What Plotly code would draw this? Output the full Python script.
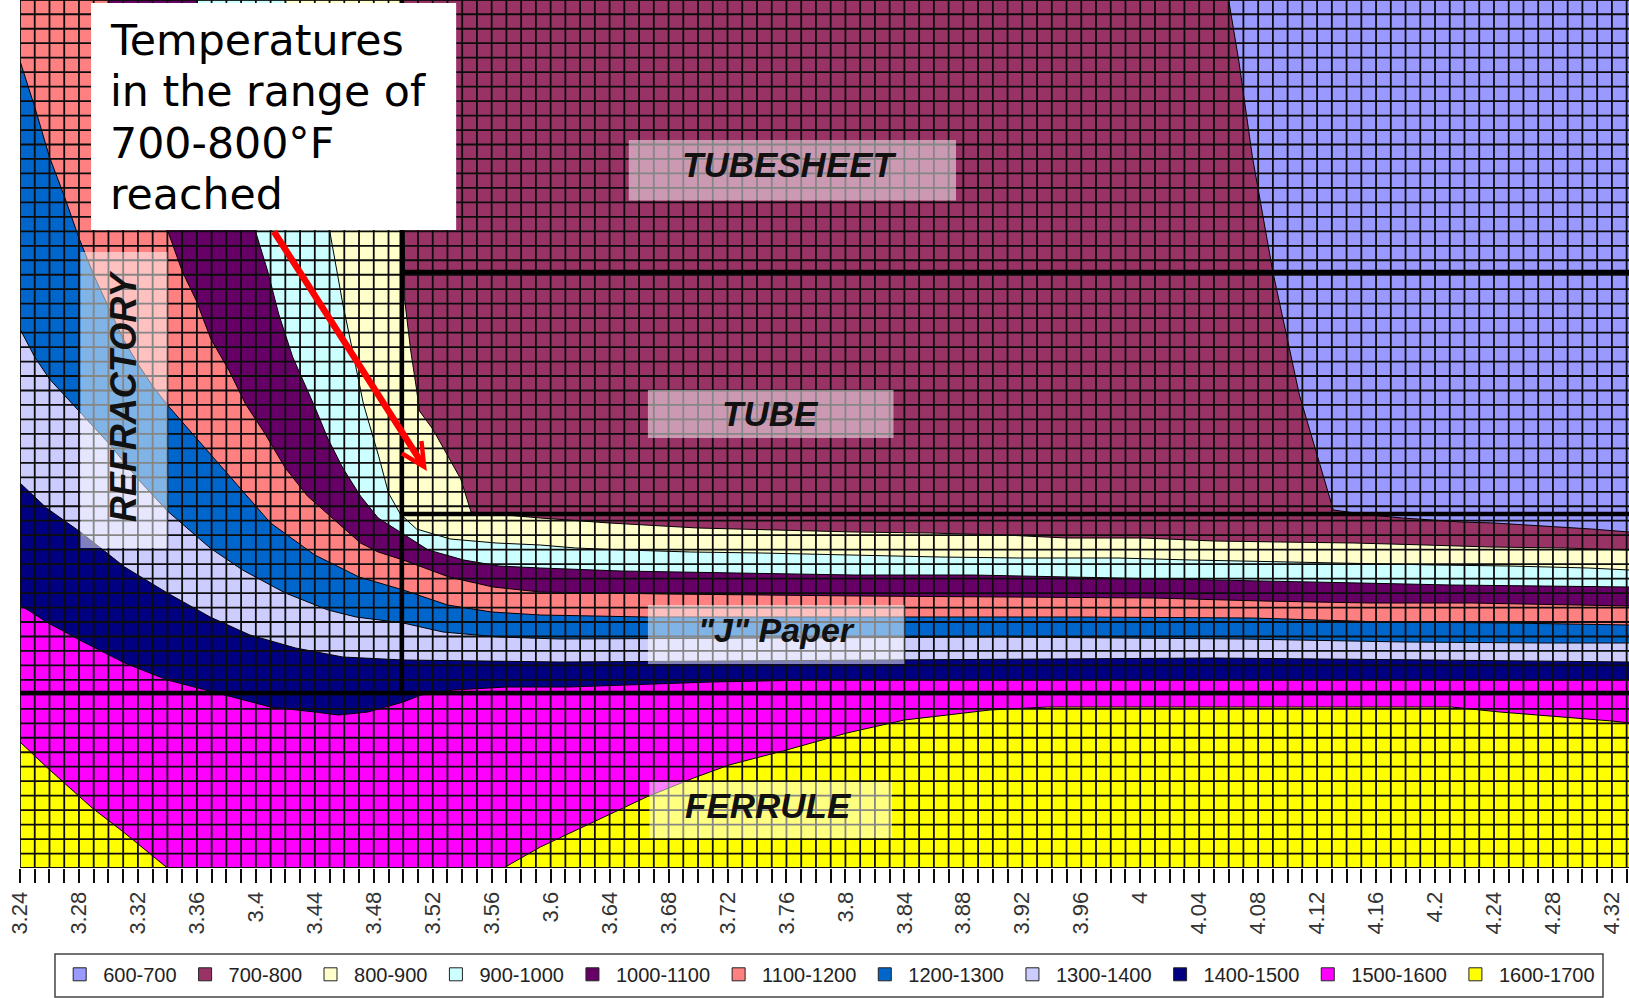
import plotly.graph_objects as go
import numpy as np

# x is read off the chart's axis; height is in arbitrary units above the bottom edge (the chart shows no y scale)
RANGES = ["600-700","700-800","800-900","900-1000","1000-1100","1100-1200","1200-1300","1300-1400","1400-1500","1500-1600","1600-1700"]
COLORS = ["#9999FF","#993366","#FFFFCC","#CCFFFF","#660066","#FF8080","#0066CC","#CCCCFF","#000080","#FF00FF","#FFFF00"]
TICK_LABELS = ["3.24","3.28","3.32","3.36","3.4","3.44","3.48","3.52","3.56","3.6","3.64","3.68","3.72","3.76","3.8","3.84","3.88","3.92","3.96","4","4.04","4.08","4.12","4.16","4.2","4.24","4.28","4.32"]
NOTE_LINES = ["Temperatures","in the range of","700-800°F","reached"]
NOTE_HEIGHTS = [828.5,776.6,724.6,673.7]

X_MIN, X_MAX, H_MAX = 3.24, 4.3316, 868

x_700 = [3.24,4.06,4.067,4.076,4.09,4.108,4.131,4.156,4.178,4.218,4.24,4.263,4.285,4.306,4.332]
h_700 = [868,868,806,712,596,473,358,353,350,346,345,343,341,339,336]

x_800 = [3.24,3.5,3.501,3.505,3.509,3.511,3.52,3.529,3.539,3.546,3.593,3.64,3.70,3.806,3.857,3.908,3.95,4.002,4.05,4.095,4.145,4.194,4.237,4.287,4.332]
h_800 = [868,868,568,518,479,457,439,416,389,356,350,345,340,336,335,333,330,330,327,326,325,323,321,320,318]

x_900 = [3.24,3.42,3.45,3.459,3.4665,3.473,3.4835,3.49,3.498,3.509,3.532,3.563,3.593,3.617,3.651,3.695,3.743,3.804,3.864,3.918,3.985,4.035,4.097,4.145,4.20,4.25,4.304,4.332]
h_900 = [868,868,638,564,511,464,411,375,354,339,329,325,323,320,318,316,315,313,311,310,310,308,306,305,303,302,300,298]

x_1000 = [3.24,3.36,3.3995,3.408,3.4155,3.425,3.44,3.449,3.459,3.471,3.483,3.498,3.517,3.541,3.565,3.593,3.648,3.726,3.806,3.886,3.956,4.028,4.092,4.149,4.211,4.268,4.332]
h_1000 = [868,868,638,597,554,511,461,429,400,372,350,336,318,308,302,300,297,295,293,293,291,289,287,285,283,282,281]

x_1100 = [3.24,3.30,3.34,3.35,3.3594,3.3695,3.382,3.393,3.4055,3.42,3.435,3.4515,3.471,3.483,3.50,3.531,3.561,3.593,3.678,3.811,3.915,4.009,4.083,4.156,4.225,4.297,4.332]
h_1100 = [868,868,638,597,568,529,497,464,436,400,372,350,325,316,308,291,281,276,274,272,271,270,267,265,265,263,262]

x_1200 = [3.24,3.25,3.26,3.27,3.28,3.29,3.30,3.31,3.32,3.33,3.34,3.36,3.38,3.41,3.44,3.47,3.50,3.53,3.56,3.593,3.665,3.84,3.96,4.076,4.166,4.249,4.32,4.332]
h_1200 = [807,761,711,672,630,593,561,529,504,482,463,429,396,345,313,291,278,263,256,253,251,251,251,250,246,245,243,243]

x_1300 = [3.24,3.25,3.26,3.28,3.30,3.32,3.34,3.369,3.391,3.42,3.449,3.468,3.50,3.527,3.565,3.606,3.905,4.069,4.18,4.275,4.332]
h_1300 = [539,511,489,457,425,389,357,320,298,275,258,251,245,236,231,229,231,229,226,225,225]

x_1400 = [3.24,3.258,3.281,3.311,3.34,3.369,3.396,3.427,3.459,3.50,3.606,3.84,4.05,4.197,4.306,4.332]
h_1400 = [385,360,336,301,275,251,233,220,211,208,206,208,210,208,206,206]

x_1500 = [3.24,3.258,3.283,3.311,3.34,3.369,3.391,3.41,3.44,3.456,3.476,3.50,3.512,3.534,3.57,3.612,3.709,3.777,4.228,4.332]
h_1500 = [263,246,226,205,188,177,168,161,156,153,156,166,173,178,181,181,186,188,188,188]

x_1600 = [3.24,3.258,3.289,3.311,3.34,3.568,3.593,3.629,3.665,3.697,3.721,3.76,3.801,3.84,3.898,3.937,3.973,4.211,4.244,4.28,4.32,4.332]
h_1600 = [126,101,60,35,0,0,21,46,71,90,103,118,135,148,158,161,161,161,156,152,147,145]

x_600 = [X_MIN, X_MAX]
h_600 = [H_MAX, H_MAX]

BOUNDARIES = [(x_600,h_600),(x_700,h_700),(x_800,h_800),(x_900,h_900),(x_1000,h_1000),(x_1100,h_1100),
              (x_1200,h_1200),(x_1300,h_1300),(x_1400,h_1400),(x_1500,h_1500),(x_1600,h_1600)]

fig = go.Figure()
for name, col, (bx, bh) in zip(RANGES, COLORS, BOUNDARIES):
    fig.add_trace(go.Scatter(x=bx, y=bh, mode="lines", fill="tozeroy", fillcolor=col,
                             line=dict(color="#000000", width=1), showlegend=False, hoverinfo="skip", name=name))

# cell grid drawn over the bands
GRID_X = np.arange(0, 110) * 0.01 + X_MIN
GRID_H = np.arange(0, 61) * 14.47
gx, gy = [], []
for v in GRID_X:
    gx += [v, v, None]; gy += [0, H_MAX, None]
for v in GRID_H:
    gx += [X_MIN, X_MAX, None]; gy += [v, v, None]
fig.add_trace(go.Scatter(x=gx, y=gy, mode="lines", line=dict(color="#0c0c0c", width=1.8),
                         showlegend=False, hoverinfo="skip", connectgaps=False))

# heavy component lines
fig.add_trace(go.Scatter(x=[3.499,3.499,None,3.499,X_MAX,None,3.499,X_MAX,None,X_MIN,X_MAX],
                         y=[H_MAX,175,None,596,596,None,354,354,None,175,175],
                         mode="lines", line=dict(color="#000000", width=4.5), showlegend=False, hoverinfo="skip"))

for name, col in zip(RANGES, COLORS):
    fig.add_trace(go.Scatter(x=[None], y=[None], mode="markers", name=name,
                             marker=dict(symbol="square", size=13, color=col, line=dict(color="#222222", width=1))))

def label_box(x0, x1, h0, h1):
    return dict(type="rect", xref="x", yref="y", x0=x0, x1=x1, y0=h0, y1=h1, layer="above",
                fillcolor="rgba(255,255,255,0.5)", line=dict(width=0))

shapes = [label_box(3.653,3.875,667.5,728), label_box(3.666,3.8326,430,478), label_box(3.666,3.84,204,263),
          label_box(3.667,3.8316,30,86), label_box(3.281,3.34,320,616),
          dict(type="rect", xref="x", yref="y", x0=3.2882, x1=3.5359, y0=638, y1=865, layer="above",
               fillcolor="#FFFFFF", line=dict(width=0)),
          dict(type="rect", xref="paper", yref="paper", x0=0.02175, x1=0.98384, y0=-0.1486, y1=-0.0991,
               layer="below", fillcolor="#FFFFFF", line=dict(color="#444444", width=1.5))]

def lab(x, h, text, size=35, angle=0):
    return dict(x=x, y=h, xref="x", yref="y", text=text, showarrow=False, textangle=angle,
                font=dict(family="Liberation Sans", size=size, color="#111111"))

annotations = [lab(3.762,704,"<b><i>TUBESHEET</i></b>"), lab(3.749,454.5,"<b><i>TUBE</i></b>"),
               lab(3.753,238,"<b><i>\"J\" Paper</i></b>",34), lab(3.748,63,"<b><i>FERRULE</i></b>"),
               lab(3.31,472,"<b><i>REFRACTORY</i></b>",36,-90),
               dict(x=3.516, y=397, xref="x", yref="y", ax=3.4116, ay=638, axref="x", ayref="y", text="", showarrow=True,
                    arrowhead=5, arrowsize=0.7, arrowwidth=6.5, arrowcolor="#FF0000")]
for line, h in zip(NOTE_LINES, NOTE_HEIGHTS):
    annotations.append(dict(x=3.2997, y=h, xref="x", yref="y", xanchor="left", yanchor="middle", align="left",
                            showarrow=False, text=line,
                            font=dict(family="DejaVu Sans", size=42.7, color="#000000")))

fig.update_layout(width=1629, height=998, margin=dict(l=20, r=0, t=0, b=130), paper_bgcolor="#FFFFFF",
                  plot_bgcolor="#FFFFFF", shapes=shapes, annotations=annotations, showlegend=True,
                  legend=dict(orientation="h", x=0.0225, y=-0.1, xanchor="left", yanchor="top", itemwidth=37,
                              bgcolor="rgba(0,0,0,0)", borderwidth=0,
                              font=dict(family="Liberation Sans", size=20, color="#222222")))
tick_vals = [X_MIN + 0.04 * i for i in range(len(TICK_LABELS))]
fig.update_xaxes(range=[X_MIN, X_MAX], tickmode="array", tickvals=tick_vals, ticktext=TICK_LABELS, tickangle=-90,
                 ticks="outside", ticklen=14, tickwidth=1.8, tickcolor="#0c0c0c", showgrid=False, zeroline=False,
                 tickfont=dict(family="Liberation Sans", size=22, color="#333333"), showline=False, automargin=False,
                 minor=dict(tickmode="array", tickvals=list(GRID_X), ticks="outside", ticklen=14, tickwidth=1.8,
                            tickcolor="#0c0c0c", showgrid=False))
fig.update_yaxes(range=[0, H_MAX], visible=False, showgrid=False, zeroline=False)
fig.write_html("out.html", config=dict(displayModeBar=False),
               post_script="document.body.style.margin='0';document.body.style.overflow='hidden';")
